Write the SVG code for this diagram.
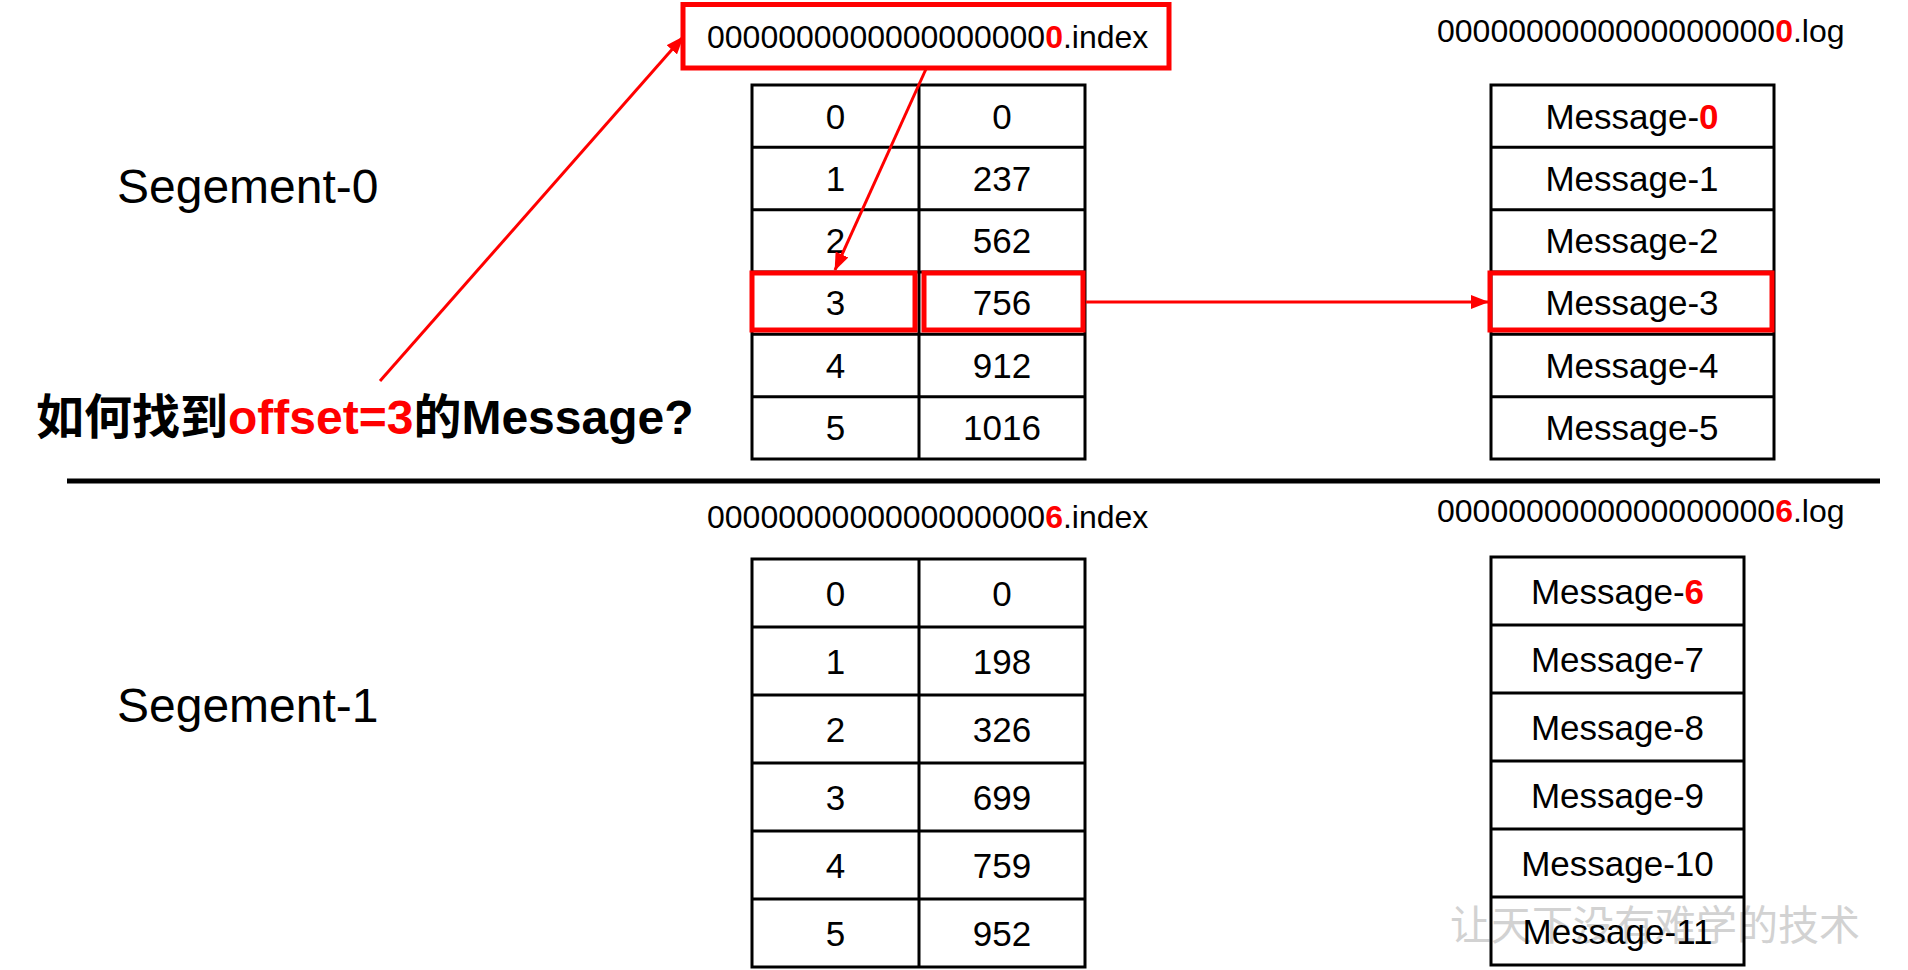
<svg xmlns="http://www.w3.org/2000/svg" width="1908" height="970" viewBox="0 0 1908 970">
  <style>
    .t{font-family:"Liberation Sans",Arial,"Noto Sans CJK SC",sans-serif;fill:#000}
    .cellt{font-size:35px;text-anchor:middle}
    .lbl{font-size:32px}
    .seg{font-size:48px}
    .r{fill:#f00;font-weight:bold}
    .grid{fill:none;stroke:#000;stroke-width:3}
    .hl{fill:none;stroke:#f00;stroke-width:5}
    .conn{stroke:#f00;stroke-width:3;fill:none}
    .wm{font-family:"Noto Sans CJK SC",sans-serif;font-size:41px;fill:#d2d2d2}
  </style>
  <defs>
    <marker id="arrow" markerUnits="userSpaceOnUse" markerWidth="18" markerHeight="14" refX="17" refY="7" orient="auto">
      <path d="M0,0 L18,7 L0,14 z" fill="#f00"/>
    </marker>
  </defs>
  <rect width="1908" height="970" fill="#fff"/>

  <!-- watermark -->
  <text class="wm" x="1450" y="940">让天下没有难学的技术</text>

  <!-- segment titles -->
  <g id="seg0-title"><text class="t seg" x="117" y="203">Segement-0</text></g>
  <g id="seg1-title"><text class="t seg" x="117" y="722">Segement-1</text></g>

  <!-- question -->
  <g id="question">
    <text x="36" y="434" font-family="'Liberation Sans','Noto Sans CJK SC',sans-serif" font-size="48" font-weight="bold"><tspan fill="#000">如何找到</tspan><tspan fill="#f00">offset=3</tspan><tspan fill="#000">的Message?</tspan></text>
  </g>

  <!-- separator between segments -->
  <line x1="67" y1="481" x2="1880" y2="481" stroke="#000" stroke-width="5"/>

  <!-- segment 0 index file -->
  <g id="seg0-index">
    <rect class="hl" x="683" y="4.5" width="486" height="63.5"/>
    <text class="t lbl" x="707" y="48">0000000000000000000<tspan class="r">0</tspan>.index</text>
    <rect class="grid" x="752" y="85" width="333" height="374"/>
    <line class="grid" x1="919" y1="85" x2="919" y2="459"/>
    <path class="grid" d="M752,147.3H1085M752,209.7H1085M752,272H1085M752,334.3H1085M752,396.7H1085"/>
    <g class="t cellt">
      <text x="835.5" y="128.5">0</text><text x="1002" y="128.5">0</text>
      <text x="835.5" y="190.8">1</text><text x="1002" y="190.8">237</text>
      <text x="835.5" y="253.1">2</text><text x="1002" y="253.1">562</text>
      <text x="835.5" y="315.4">3</text><text x="1002" y="315.4">756</text>
      <text x="835.5" y="377.7">4</text><text x="1002" y="377.7">912</text>
      <text x="835.5" y="440">5</text><text x="1002" y="440">1016</text>
    </g>
    <rect class="hl" x="752" y="273" width="163" height="57"/>
    <rect class="hl" x="924" y="273" width="159" height="57"/>
  </g>

  <!-- segment 0 log file -->
  <g id="seg0-log">
    <text class="t lbl" x="1437" y="42">0000000000000000000<tspan class="r">0</tspan>.log</text>
    <rect class="grid" x="1491" y="85" width="283" height="374"/>
    <path class="grid" d="M1491,147.3H1774M1491,209.7H1774M1491,272H1774M1491,334.3H1774M1491,396.7H1774"/>
    <g class="t cellt">
      <text x="1632" y="128.5">Message-<tspan class="r">0</tspan></text>
      <text x="1632" y="190.8">Message-1</text>
      <text x="1632" y="253.1">Message-2</text>
      <text x="1632" y="315.4">Message-3</text>
      <text x="1632" y="377.7">Message-4</text>
      <text x="1632" y="440">Message-5</text>
    </g>
    <rect class="hl" x="1490" y="273" width="282" height="57"/>
  </g>

  <!-- segment 1 index file -->
  <g id="seg1-index">
    <text class="t lbl" x="707" y="528">0000000000000000000<tspan class="r">6</tspan>.index</text>
    <rect class="grid" x="752" y="559" width="333" height="408"/>
    <line class="grid" x1="919" y1="559" x2="919" y2="967"/>
    <path class="grid" d="M752,627H1085M752,695H1085M752,763H1085M752,831H1085M752,899H1085"/>
    <g class="t cellt">
      <text x="835.5" y="605.5">0</text><text x="1002" y="605.5">0</text>
      <text x="835.5" y="673.5">1</text><text x="1002" y="673.5">198</text>
      <text x="835.5" y="741.5">2</text><text x="1002" y="741.5">326</text>
      <text x="835.5" y="809.5">3</text><text x="1002" y="809.5">699</text>
      <text x="835.5" y="877.5">4</text><text x="1002" y="877.5">759</text>
      <text x="835.5" y="945.5">5</text><text x="1002" y="945.5">952</text>
    </g>
  </g>

  <!-- segment 1 log file -->
  <g id="seg1-log">
    <text class="t lbl" x="1437" y="522">0000000000000000000<tspan class="r">6</tspan>.log</text>
    <rect class="grid" x="1491" y="557" width="253" height="408"/>
    <path class="grid" d="M1491,625H1744M1491,693H1744M1491,761H1744M1491,829H1744M1491,897H1744"/>
    <g class="t cellt">
      <text x="1617.5" y="603.5">Message-<tspan class="r">6</tspan></text>
      <text x="1617.5" y="671.5">Message-7</text>
      <text x="1617.5" y="739.5">Message-8</text>
      <text x="1617.5" y="807.5">Message-9</text>
      <text x="1617.5" y="875.5">Message-10</text>
      <text x="1617.5" y="943.5">Message-11</text>
    </g>
  </g>

  <!-- connectors -->
  <g id="connectors">
    <line class="conn" x1="380" y1="381" x2="683" y2="37" marker-end="url(#arrow)"/>
    <line class="conn" x1="926" y1="69" x2="835" y2="270" marker-end="url(#arrow)"/>
    <line class="conn" x1="1086" y1="302" x2="1488" y2="302" marker-end="url(#arrow)"/>
  </g>
</svg>
